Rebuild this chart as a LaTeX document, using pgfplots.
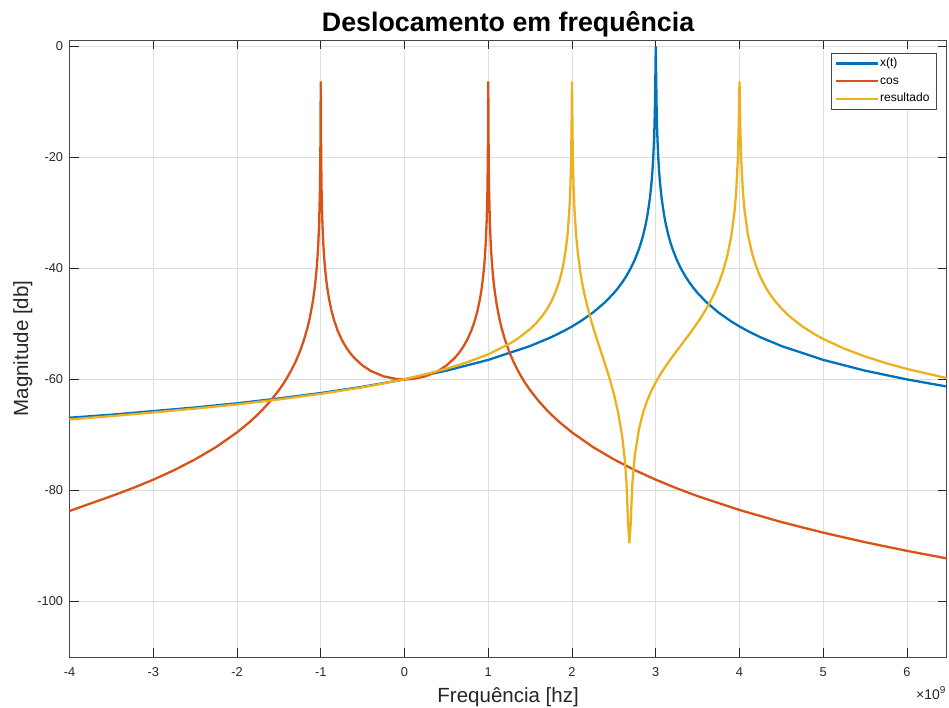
\documentclass[border=0pt]{standalone}
\usepackage{fontspec}
\setmainfont{Liberation Sans}
\usepackage{pgfplots}
\pgfplotsset{compat=1.18}

\definecolor{mblue}{rgb}{0,0.447,0.741}
\definecolor{morange}{rgb}{0.85,0.325,0.098}
\definecolor{myellow}{rgb}{0.929,0.694,0.125}
\definecolor{axgray}{rgb}{0.15,0.15,0.15}

\begin{document}
\begin{tikzpicture}[x=1pt,y=1pt]
\useasboundingbox (0,0) rectangle (949,708);
\begin{axis}[
  name=ax,
  at={(69.5pt,51pt)}, anchor=south west,
  width=877.2pt, height=617pt, scale only axis,
  xmin=-4, xmax=6.474, ymin=-110, ymax=1.15,
  xtick={-4,-3,-2,-1,0,1,2,3,4,5,6},
  xticklabels={-4,-3,-2,-1,0,1,2,3,4,5,6},
  ytick={-100,-80,-60,-40,-20,0},
  yticklabels={-100,-80,-60,-40,-20,0},
  tick align=inside, major tick length=9pt,
  grid=major, grid style={line width=0.6pt, color=black!13},
  axis line style={line width=0.8pt, color=axgray!85},
  tick style={line width=0.8pt, color=axgray},
  ticklabel style={font=\fontsize{12.8}{13}\selectfont, text=axgray},
  xticklabel style={anchor=base, yshift=-19.3pt},
  yticklabel style={anchor=east, inner sep=0pt, xshift=-6.2pt},
  title={Deslocamento em frequência},
  title style={at={(axis description cs:0.5,1)}, anchor=base, yshift=2pt,
    font=\bfseries\fontsize{26.8}{28}\selectfont, text=black},
  xlabel={Frequência [hz]},
  xlabel style={at={(axis description cs:0.5,0)}, anchor=base, yshift=-45.7pt,
    font=\fontsize{20.5}{22}\selectfont, text=axgray},
  ylabel={Magnitude [db]},
  ylabel style={at={(axis description cs:-0.0473,0.5)}, anchor=base, rotate=0,
    font=\fontsize{20.5}{22}\selectfont, text=axgray},
  legend style={at={(axis description cs:0.9881,0.9789)}, anchor=north east,
    draw=axgray!85, line width=0.6pt, fill=white,
    font=\fontsize{12}{12}\selectfont, text=black,
    inner xsep=4.5pt, inner ysep=2.5pt, row sep=2.5pt,
    nodes={fill=none, text height=8.6pt, text depth=2.6pt}},
  legend cell align=left,
  legend image code/.code={\fill[#1, draw=none] (0pt,-1.15pt) rectangle (42pt,1.15pt);},
  every axis plot/.append style={line width=2.3pt},
]

% x(t)
\addplot[mblue] coordinates {
(-4,-66.9) (-3.5,-66.35) (-3,-65.7) (-2.5,-65.05) (-2,-64.3) (-1.5,-63.42)
(-1,-62.45) (-0.5,-61.32) (0,-60.0) (0.5,-58.42) (1,-56.48) (1.5,-53.98)
(1.75,-52.40) (1.9,-51.29) (2,-50.46) (2.1,-49.54) (2.25,-47.96) (2.4,-46.02)
(2.5,-44.44) (2.55,-43.52) (2.6,-42.50) (2.65,-41.34) (2.7,-40.00) (2.75,-38.42)
(2.8,-36.48) (2.82,-35.56) (2.85,-33.98) (2.88,-32.04) (2.9,-30.46) (2.93,-27.37)
(2.95,-24.44) (2.96,-22.52) (2.97,-20.04) (2.98,-16.57) (2.985,-14.15) (2.99,-10.83)
(2.995,-5.77) (3,0)
(3.005,-5.77) (3.01,-10.83) (3.015,-14.15) (3.02,-16.57) (3.03,-20.04) (3.04,-22.52)
(3.05,-24.44) (3.07,-27.37) (3.1,-30.46) (3.12,-32.04) (3.15,-33.98) (3.18,-35.56)
(3.2,-36.48) (3.25,-38.42) (3.3,-40.00) (3.35,-41.34) (3.4,-42.50) (3.45,-43.52)
(3.5,-44.44) (3.6,-46.02) (3.75,-47.96) (3.9,-49.54) (4,-50.46) (4.1,-51.29)
(4.25,-52.40) (4.5,-53.98) (5,-56.48) (5.5,-58.42) (6,-60.00) (6.5,-61.34)
};
\addlegendentry{x(t)}

% cos
\addplot[morange] coordinates {
(-4,-83.7) (-3.5,-81.02) (-3.25,-79.61) (-3,-78.06) (-2.75,-76.34) (-2.5,-74.40)
(-2.25,-72.18) (-2,-69.54) (-1.85,-67.69) (-1.75,-66.29) (-1.7,-65.53) (-1.6,-63.86)
(-1.5,-61.94) (-1.45,-60.85) (-1.4,-59.65) (-1.35,-58.30) (-1.3,-56.78) (-1.25,-55.00)
(-1.2,-52.87) (-1.16,-50.77) (-1.13,-48.85) (-1.1,-46.44) (-1.08,-44.42)
(-1.065,-42.56) (-1.05,-40.21) (-1.04,-38.23) (-1.03,-35.69) (-1.02,-32.13)
(-1.01,-26.07) (-1.005,-20.19) (-1,-6.3)
(-0.995,-20.15) (-0.99,-25.99) (-0.98,-31.95) (-0.97,-35.43) (-0.96,-37.89)
(-0.95,-39.78) (-0.935,-41.99) (-0.92,-43.73) (-0.9,-45.58) (-0.87,-47.72)
(-0.84,-49.38) (-0.8,-51.13) (-0.75,-52.82) (-0.7,-54.15) (-0.65,-55.23)
(-0.6,-56.12) (-0.5,-57.50) (-0.4,-58.49) (-0.25,-59.44) (-0.1,-59.91) (0,-60)
(0.1,-59.91) (0.25,-59.44) (0.4,-58.49) (0.5,-57.50) (0.6,-56.12) (0.65,-55.23)
(0.7,-54.15) (0.75,-52.82) (0.8,-51.13) (0.84,-49.38) (0.87,-47.72) (0.9,-45.58)
(0.92,-43.73) (0.935,-41.99) (0.95,-39.78) (0.96,-37.89) (0.97,-35.43)
(0.98,-31.95) (0.99,-25.99) (0.995,-20.15) (1,-6.3)
(1.005,-20.19) (1.01,-26.07) (1.02,-32.13) (1.03,-35.69) (1.04,-38.23)
(1.05,-40.21) (1.065,-42.56) (1.08,-44.42) (1.1,-46.44) (1.13,-48.85)
(1.16,-50.77) (1.2,-52.87) (1.25,-55.00) (1.3,-56.78) (1.35,-58.30) (1.4,-59.65)
(1.45,-60.85) (1.5,-61.94) (1.6,-63.86) (1.7,-65.53) (1.75,-66.29) (1.85,-67.69)
(2,-69.54) (2.25,-72.18) (2.5,-74.40) (2.75,-76.34) (3,-78.06) (3.25,-79.61)
(3.5,-81.02) (4,-83.52) (4.5,-85.69) (5,-87.60) (5.5,-89.32) (6,-90.88) (6.5,-92.31)
};
\addlegendentry{cos}

% resultado
\addplot[myellow] coordinates {
(-4,-67.2) (-3.5,-66.6) (-3,-65.95) (-2.5,-65.25) (-2,-64.5) (-1.5,-63.6)
(-1,-62.6) (-0.5,-61.42) (-0.25,-60.72) (0,-59.94) (0.25,-59.07) (0.5,-58.07)
(0.75,-56.90) (1,-55.47) (1.25,-53.61) (1.35,-52.67) (1.5,-50.92) (1.58,-49.73)
(1.65,-48.46) (1.7,-47.37) (1.75,-46.05) (1.8,-44.39) (1.85,-42.20) (1.875,-40.77)
(1.9,-39.01) (1.93,-36.12) (1.95,-33.35) (1.97,-29.08) (1.98,-25.67) (1.99,-19.87)
(1.995,-14.39) (2,-6.3)
(2.005,-14.46) (2.01,-20.02) (2.02,-26.04) (2.03,-29.58) (2.05,-34.18) (2.07,-37.29)
(2.1,-40.69) (2.125,-42.89) (2.15,-44.76) (2.2,-47.87) (2.25,-50.51) (2.3,-52.90)
(2.35,-55.19) (2.4,-57.48) (2.45,-59.91) (2.5,-62.62) (2.55,-65.89) (2.6,-70.36)
(2.63,-74.37) (2.65,-78.44) (2.67,-85.94) (2.685,-89.5) (2.7,-86.12) (2.72,-78.87)
(2.75,-73.64) (2.8,-68.89) (2.85,-65.91) (2.9,-63.72) (2.95,-61.97) (3,-60.49)
(3.05,-59.19) (3.1,-58.01) (3.2,-55.87) (3.3,-53.86) (3.4,-51.86) (3.45,-50.82)
(3.5,-49.74) (3.55,-48.59) (3.6,-47.35) (3.65,-46.00) (3.7,-44.48) (3.75,-42.73)
(3.8,-40.64) (3.85,-38.00) (3.9,-34.34) (3.94,-29.82) (3.96,-26.27) (3.98,-20.33)
(3.99,-14.75) (3.995,-10.19) (4,-6.3)
(4.005,-10.17) (4.01,-14.71) (4.02,-20.25) (4.04,-26.10) (4.06,-29.55) (4.1,-33.89)
(4.15,-37.31) (4.2,-39.72) (4.25,-41.57) (4.3,-43.07) (4.35,-44.33) (4.4,-45.42)
(4.5,-47.22) (4.6,-48.68) (4.75,-50.45) (4.9,-51.88) (5,-52.71) (5.25,-54.45)
(5.5,-55.87) (5.75,-57.07) (6,-58.11) (6.5,-59.85)
};
\addlegendentry{resultado}
\end{axis}

\node[anchor=base east, inner sep=0pt, text=axgray,
  font=\fontsize{14}{14}\selectfont]
  at ([yshift=-42.3pt, xshift=-1pt]ax.south east)
  {×10\raisebox{5.5pt}{\fontsize{10}{10}\selectfont 9}};
\end{tikzpicture}
\end{document}
